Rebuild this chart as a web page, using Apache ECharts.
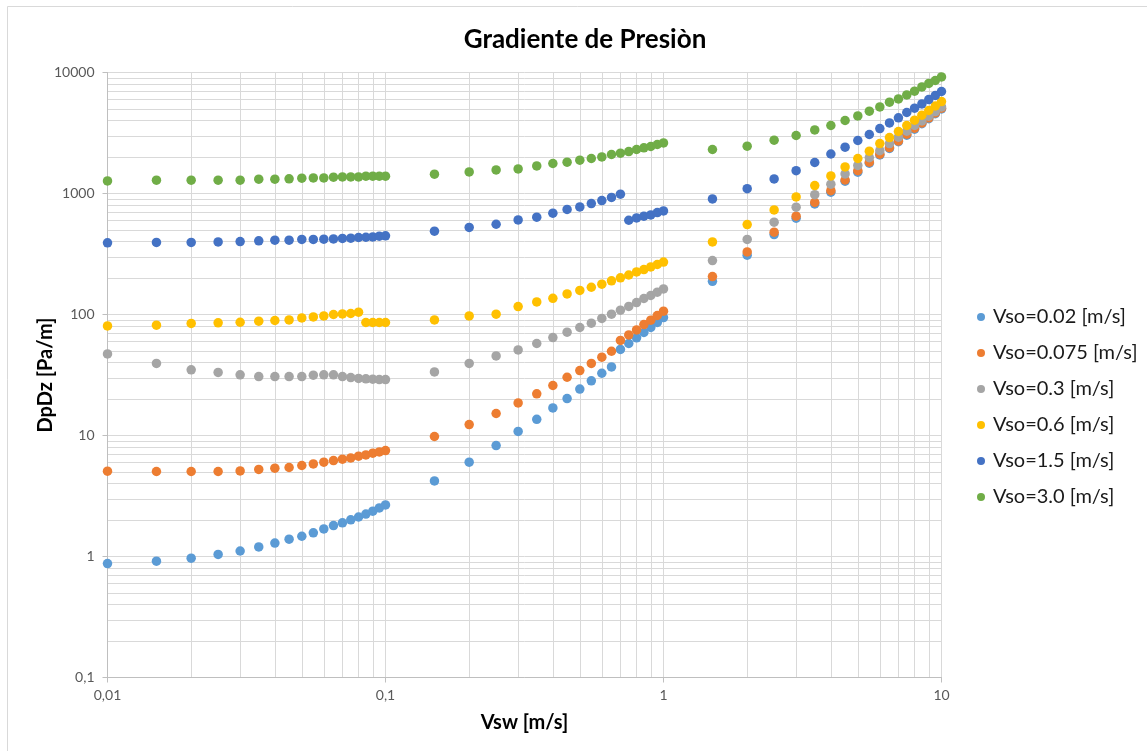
<!DOCTYPE html>
<html>
<head>
<meta charset="utf-8">
<script src="https://cdn.jsdelivr.net/npm/echarts@6/dist/echarts.min.js"></script>
<style>
html,body{margin:0;padding:0;background:#fff;}
#chart{width:1147px;height:751px;}
</style>
</head>
<body>
<div id="chart"></div>
<script>
// ---- data ----
const chartTitle = 'Gradiente de Presiòn';
const xAxisName = 'Vsw [m/s]';
const yAxisName = 'DpDz [Pa/m]';
const seriesNames = ['Vso=0.02 [m/s]', 'Vso=0.075 [m/s]', 'Vso=0.3 [m/s]', 'Vso=0.6 [m/s]', 'Vso=1.5 [m/s]', 'Vso=3.0 [m/s]'];
const xTickLabels = ['0,01', '0,1', '1', '10'];
const yTickLabels = ['0,1', '1', '10', '100', '1000', '10000'];

const xValues = [
  0.01, 0.015, 0.02, 0.025, 0.03, 0.035, 0.04, 0.045, 0.05, 0.055, 0.06, 0.065, 0.07, 0.075, 0.08, 0.085, 0.09, 0.095, 0.1,
  0.15, 0.2, 0.25, 0.3, 0.35, 0.4, 0.45, 0.5, 0.55, 0.6, 0.65, 0.7, 0.75, 0.8, 0.85, 0.9, 0.95, 1.0,
  1.5, 2, 2.5, 3, 3.5, 4, 4.5, 5, 5.5, 6, 6.5, 7, 7.5, 8, 8.5, 9, 9.5, 10
];

const vso002 = [
  0.875, 0.914, 0.968, 1.04, 1.11, 1.20, 1.29, 1.39, 1.47, 1.57, 1.69, 1.80, 1.90, 2.01, 2.12, 2.24, 2.37, 2.52, 2.67,
  4.21, 6.02, 8.26, 10.8, 13.6, 16.9, 20.2, 24.2, 28.3, 32.7, 36.9, 51.4, 57.6, 64.1, 71.0, 78.1, 85.9, 94.4,
  188, 309, 458, 625, 820, 1025, 1264, 1500, 1780, 2084, 2354, 2680, 3033, 3398, 3773, 4150, 4565, 5000
];
const vso0075 = [
  5.07, 5.04, 5.04, 5.04, 5.10, 5.24, 5.37, 5.44, 5.65, 5.82, 6.02, 6.21, 6.37, 6.53, 6.74, 6.91, 7.14, 7.32, 7.51,
  9.81, 12.3, 15.2, 18.6, 22.1, 25.9, 30.3, 34.4, 39.4, 44.4, 49.7, 61.0, 67.8, 74.6, 82.6, 89.7, 98.1, 106.5,
  206, 329, 479, 649, 843, 1055, 1293, 1543, 1815, 2113, 2399, 2721, 3090, 3465, 3833, 4217, 4634, 5070
];
const vso03 = [
  47.2, 39.4, 34.9, 33.2, 31.7, 30.7, 30.7, 30.7, 30.7, 31.5, 31.7, 31.7, 30.7, 30.1, 29.6, 29.4, 29.2, 29.0, 29.0,
  33.5, 39.4, 45.5, 51.0, 57.6, 64.5, 71.4, 78.1, 84.8, 92.7, 100.6, 108.6, 116.5, 125.6, 135.6, 143.6, 152.8, 162.8,
  279, 417, 579, 771, 977, 1193, 1452, 1706, 1976, 2258, 2588, 2918, 3273, 3648, 3981, 4355, 4759, 5197
];
const vso06 = [
  80.5, 81.6, 84.3, 85.3, 86.3, 88.1, 89.2, 90.2, 93.7, 95.5, 97.3, 100, 101, 101.9, 104.5, 85.9, 85.9, 85.9, 85.9,
  90.2, 97.4, 100.6, 116.4, 127, 136, 148, 158, 168, 178, 190, 201, 212, 225, 235, 247, 259, 271,
  398, 554, 732, 937, 1164, 1398, 1659, 1946, 2237, 2588, 2901, 3254, 3648, 4034, 4436, 4853, 5297, 5757
];
const vso15 = [
  391, 394, 394, 398, 401, 406, 411, 411, 417, 417, 419, 421, 425, 427, 433, 435, 438, 444, 447,
  488, 524, 557, 605, 637, 687, 738, 775, 826, 875, 927, 987, 601, 628, 649, 665, 696, 718,
  901, 1096, 1320, 1543, 1804, 2120, 2414, 2742, 3073, 3443, 3833, 4217, 4671, 5070, 5502, 5980, 6455, 6966
];
const vso30 = [
  1271, 1288, 1288, 1288, 1288, 1313, 1313, 1321, 1338, 1346, 1346, 1364, 1372, 1372, 1372, 1390, 1390, 1390, 1390,
  1444, 1508, 1567, 1597, 1690, 1770, 1815, 1884, 1946, 2006, 2100, 2153, 2223, 2310, 2383, 2446, 2540, 2618,
  2310, 2460, 2757, 3015, 3356, 3648, 4012, 4378, 4788, 5197, 5682, 6053, 6531, 7008, 7605, 8115, 8589, 9196
];
const seriesValues = [vso002, vso0075, vso03, vso06, vso15, vso30];

// ---- styling ----
const colors = ['#5B9BD5', '#ED7D31', '#A5A5A5', '#FFC000', '#4472C4', '#70AD47'];
const FONT = 'Lato, "Open Sans", sans-serif';
const gridColor = '#d9d9d9';

// minor grid values (2..9 per decade)
const xMinor = [], yMinor = [];
[-2, -1, 0].forEach(e => { for (let k = 2; k <= 9; k++) xMinor.push(+(k * Math.pow(10, e)).toPrecision(6)); });
[-1, 0, 1, 2, 3].forEach(e => { for (let k = 2; k <= 9; k++) yMinor.push(+(k * Math.pow(10, e)).toPrecision(6)); });

const chart = echarts.init(document.getElementById('chart'), null, {renderer: 'canvas'});

const scatterSeries = seriesNames.map((name, i) => ({
  name: name,
  type: 'scatter',
  z: 3 + i,
  symbol: 'circle',
  symbolSize: 9.5,
  itemStyle: {color: colors[i], opacity: 1},
  emphasis: {disabled: true},
  data: xValues.map((x, j) => [x, seriesValues[i][j]])
}));

const minorSeries = {
  name: '__grid',
  type: 'scatter',
  silent: true,
  z: 1,
  data: [],
  markLine: {
    silent: true,
    animation: false,
    z: 0,
    symbol: ['none', 'none'],
    label: {show: false},
    emphasis: {disabled: true},
    lineStyle: {color: gridColor, width: 1, type: 'solid'},
    data: xMinor.map(v => ({xAxis: v})).concat(yMinor.map(v => ({yAxis: v})))
  }
};

const option = {
  animation: false,
  backgroundColor: '#fff',
  textStyle: {fontFamily: FONT},
  title: {
    text: chartTitle,
    left: 580,
    textAlign: 'center',
    top: 22,
    textStyle: {fontFamily: FONT, fontSize: 26, fontWeight: 'bold', color: '#000'}
  },
  graphic: [{
    type: 'rect',
    silent: true,
    shape: {x: 7.5, y: 6.5, width: 1300, height: 900},
    style: {fill: 'none', stroke: '#d9d9d9', lineWidth: 1},
    z: -10
  }],
  legend: {
    orient: 'vertical',
    left: 972,
    top: 300,
    icon: 'circle',
    itemWidth: 8,
    itemHeight: 8,
    itemGap: 12,
    data: seriesNames,
    textStyle: {fontFamily: FONT, fontSize: 20, color: '#1a1a1a', lineHeight: 24, padding: [0, 0, 0, 3]}
  },
  grid: {left: 107.5, right: 205.5, top: 72.5, bottom: 73.5, containLabel: false},
  xAxis: {
    type: 'log',
    logBase: 10,
    min: 0.01,
    max: 10,
    name: xAxisName,
    nameLocation: 'middle',
    nameGap: 35,
    nameMoveOverlap: false,
    nameTextStyle: {fontFamily: FONT, fontSize: 20, fontWeight: 'bold', color: '#000'},
    axisLine: {show: true, lineStyle: {color: '#bfbfbf', width: 1}},
    axisTick: {show: true, length: 5, lineStyle: {color: '#bfbfbf'}},
    axisLabel: {
      margin: 11, fontFamily: FONT, fontSize: 14, color: '#595959',
      formatter: v => xTickLabels[Math.round(Math.log10(v)) + 2]
    },
    splitLine: {show: true, lineStyle: {color: gridColor, width: 1}},
    minorTick: {show: false},
    minorSplitLine: {show: false}
  },
  yAxis: {
    type: 'log',
    logBase: 10,
    min: 0.1,
    max: 10000,
    name: yAxisName,
    nameLocation: 'middle',
    nameGap: 52,
    nameMoveOverlap: false,
    nameRotate: 90,
    nameTextStyle: {fontFamily: FONT, fontSize: 20, fontWeight: 'bold', color: '#000'},
    axisLine: {show: true, lineStyle: {color: '#bfbfbf', width: 1}},
    axisTick: {show: true, length: 5, lineStyle: {color: '#bfbfbf'}},
    axisLabel: {
      margin: 13, fontFamily: FONT, fontSize: 14, color: '#595959',
      formatter: v => yTickLabels[Math.round(Math.log10(v)) + 1]
    },
    splitLine: {show: true, lineStyle: {color: gridColor, width: 1}},
    minorTick: {show: false},
    minorSplitLine: {show: false}
  },
  series: [minorSeries].concat(scatterSeries)
};

chart.setOption(option);
</script>
</body>
</html>
